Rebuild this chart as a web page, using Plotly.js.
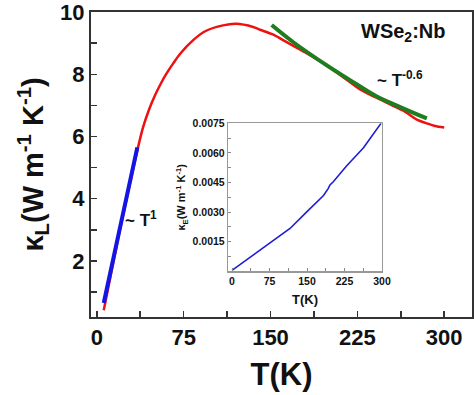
<!DOCTYPE html>
<html>
<head>
<meta charset="utf-8">
<script src="https://cdn.plot.ly/plotly-3.0.1.min.js"></script>
<style>html,body{margin:0;padding:0;background:#fff;}#chart{width:474px;height:395px;}</style>
</head>
<body>
<div id="chart"></div>
<script>
// Main panel: lattice thermal conductivity kappa_L vs T
const tRed = [6, 20, 35.6, 40, 45, 50, 55, 60, 66, 72, 83, 94, 109, 120, 135, 141, 152, 164, 180, 198, 213, 227, 240, 255, 266, 276, 285, 292, 300];
const kRed = [0.42, 3.0, 5.65, 6.3, 6.85, 7.3, 7.68, 8.01, 8.35, 8.66, 9.09, 9.39, 9.57, 9.62, 9.52, 9.43, 9.28, 9.03, 8.7, 8.29, 7.9, 7.52, 7.27, 7.0, 6.8, 6.55, 6.42, 6.34, 6.29];
// ~T^1 segment (blue)
const tBlue = [6, 20, 35];
const kBlue = [0.65, 3.1, 5.65];
// ~T^-0.6 segment (green)
const tGreen = [151, 170, 198, 220, 241, 263, 285];
const kGreen = [9.58, 9.02, 8.3, 7.78, 7.3, 6.93, 6.58];
// Inset: electronic thermal conductivity kappa_E vs T
const tInset = [0, 43, 83, 116, 149, 183, 192, 196, 203, 229, 263, 298];
const kInset = [0.00005, 0.00083, 0.00153, 0.00217, 0.0030, 0.00384, 0.00418, 0.00438, 0.00455, 0.00534, 0.00626, 0.0075];
const xTicks = [0, 75, 150, 225, 300];
const xTickText = ['0', '75', '150', '225', '300'];
const yTicksMain = [2, 4, 6, 8, 10];
const yTickTextMain = ['2', '4', '6', '8', '10'];
const yTicksInset = [0.0015, 0.0030, 0.0045, 0.0060, 0.0075];
const yTickTextInset = ['0.0015', '0.0030', '0.0045', '0.0060', '0.0075'];

const b = s => '<b>' + s + '</b>';
const FONT = 'Liberation Sans, Arial, sans-serif';
const traces = [
  {x: tRed, y: kRed, mode: 'lines', line: {color: '#ee1111', width: 2.5, shape: 'spline', smoothing: 0.8}, xaxis: 'x', yaxis: 'y', hoverinfo: 'skip'},
  {x: tBlue, y: kBlue, mode: 'lines', line: {color: '#1414e6', width: 4}, xaxis: 'x', yaxis: 'y', hoverinfo: 'skip'},
  {x: tGreen, y: kGreen, mode: 'lines', line: {color: '#1e7d1e', width: 4, shape: 'spline'}, xaxis: 'x', yaxis: 'y', hoverinfo: 'skip'},
  {x: tInset, y: kInset, mode: 'lines', line: {color: '#1e1ed2', width: 1.6}, xaxis: 'x2', yaxis: 'y2', hoverinfo: 'skip'}
];

const layout = {
  width: 474, height: 395,
  margin: {l: 91, r: 2, t: 12, b: 78},
  paper_bgcolor: '#fff', plot_bgcolor: '#fff',
  showlegend: false,
  font: {family: FONT, color: '#111'},
  xaxis: {
    domain: [0, 1], range: [-5, 324],
    tickvals: xTicks, ticktext: xTickText.map(b), ticks: 'inside', ticklen: 6, tickwidth: 1.5, tickcolor: '#333',
    minor: {dtick: 37.5, tick0: 0, ticks: 'inside', ticklen: 6, tickwidth: 1.5, tickcolor: '#333'},
    showline: true, linecolor: '#333', linewidth: 2, mirror: true,
    showgrid: false, zeroline: false, ticklabeloverflow: 'allow',
    tickfont: {family: FONT, size: 22, color: '#111'},
    title: {text: b('T(K)'), font: {family: FONT, size: 31, color: '#111'}, standoff: 14}
  },
  yaxis: {
    domain: [0, 1], range: [0.2, 10.0001],
    tickvals: yTicksMain, ticktext: yTickTextMain.map(b), ticks: 'inside', ticklen: 6, tickwidth: 1.5, tickcolor: '#333',
    minor: {dtick: 1, tick0: 0, ticks: 'inside', ticklen: 6, tickwidth: 1.5, tickcolor: '#333'},
    showline: true, linecolor: '#333', linewidth: 2, mirror: true,
    showgrid: false, zeroline: false, ticklabeloverflow: 'allow',
    tickfont: {family: FONT, size: 22, color: '#111'},
    title: {text: b('κ<sub>L</sub>(W m<sup>-1</sup> K<sup>-1</sup>)'), font: {family: FONT, size: 29, color: '#111'}, standoff: 8}
  },
  xaxis2: {
    domain: [0.3596, 0.7638], range: [-8, 300], anchor: 'y2',
    tickvals: xTicks, ticktext: xTickText.map(b), ticks: 'inside', ticklen: 3, tickwidth: 1, tickcolor: '#888',
    minor: {dtick: 37.5, tick0: 0, ticks: 'inside', ticklen: 3, tickwidth: 1, tickcolor: '#888'},
    showline: true, linecolor: '#999', linewidth: 1.2, mirror: true,
    showgrid: false, zeroline: false,
    tickfont: {family: FONT, size: 10.5, color: '#111'},
    title: {text: b('T(K)'), font: {family: FONT, size: 13, color: '#111'}, standoff: 8}
  },
  yaxis2: {
    domain: [0.1498, 0.635], range: [0, 0.0075], anchor: 'x2',
    tickvals: yTicksInset, ticktext: yTickTextInset.map(b), ticks: 'inside', ticklen: 3, tickwidth: 1, tickcolor: '#888',
    minor: {dtick: 0.00075, tick0: 0, ticks: 'inside', ticklen: 3, tickwidth: 1, tickcolor: '#888'},
    showline: true, linecolor: '#999', linewidth: 1.2, mirror: true,
    showgrid: false, zeroline: false, ticklabeloverflow: 'allow',
    tickfont: {family: FONT, size: 10.5, color: '#111'},
    title: {text: b('κ<sub>E</sub>(W m<sup>-1</sup> K<sup>-1</sup>)'), font: {family: FONT, size: 11, color: '#111'}, standoff: 4}
  },
  annotations: [
    {xref: 'x', yref: 'y', x: 226, y: 9.35, xanchor: 'left', yanchor: 'middle', showarrow: false,
     text: b('WSe<sub>2</sub>:Nb'), font: {family: FONT, size: 20, color: '#111'}},
    {xref: 'x', yref: 'y', x: 240, y: 7.85, xanchor: 'left', yanchor: 'middle', showarrow: false,
     text: b('~ T<sup>-0.6</sup>'), font: {family: FONT, size: 17, color: '#111'}},
    {xref: 'x', yref: 'y', x: 23, y: 3.35, xanchor: 'left', yanchor: 'middle', showarrow: false,
     text: b('~ T<sup>1</sup>'), font: {family: FONT, size: 17, color: '#111'}}
  ]
};

Plotly.newPlot('chart', traces, layout, {staticPlot: true, displayModeBar: false});
</script>
</body>
</html>
